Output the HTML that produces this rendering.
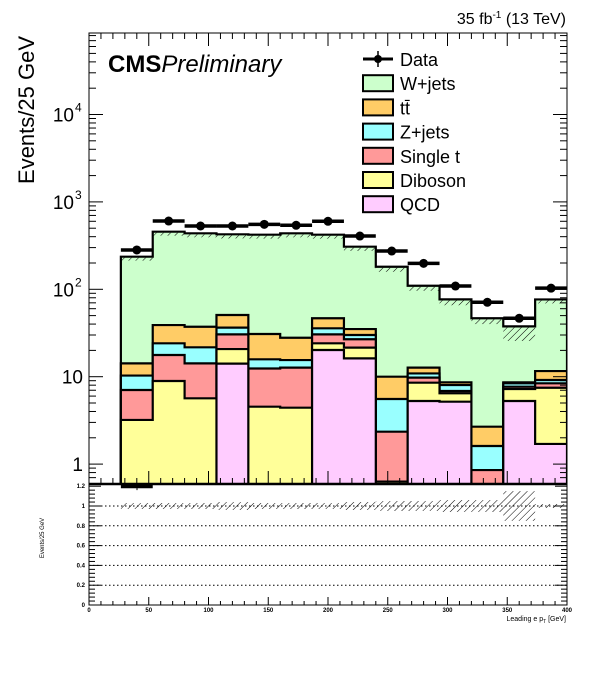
<!DOCTYPE html>
<html><head><meta charset="utf-8"><style>
html,body{margin:0;padding:0;background:#fff;}
svg{display:block;font-family:"Liberation Sans",sans-serif;}
</style></head><body>
<svg id="chart" width="596" height="692" viewBox="0 0 596 692">
<defs>
<pattern id="hatch" width="5" height="5" patternUnits="userSpaceOnUse" patternTransform="rotate(45)">
<line x1="0" y1="0" x2="0" y2="5" stroke="#000" stroke-width="1"/>
</pattern>
</defs>
<g id="main"></g>
</svg>
<script>
const binLow = [26.67,53.33,80,106.67,133.33,160,186.67,213.33,240,266.67,293.33,320,346.67,373.33];
const binWidth = 26.67;
const dataVals = [282,604,530,530,554,540,600,407,274,198,109,71,46.6,103];
const qcd     = [0,0,0,14.1,0,0,20.2,16.2,0,5.27,5.18,0,5.27,1.7];
const diboson = [3.2,8.93,5.66,6.6,4.54,4.42,3.9,5.3,0.63,3.27,1.28,0,1.96,5.78];
const singleT = [3.85,8.77,8.54,9.8,7.86,8.28,6.4,5.3,1.72,1.21,0.4,0.855,0.46,0.92];
const zjets   = [3.25,6.4,7.5,5.9,3.4,2.8,5.3,3.2,3.21,1.15,1.18,0.755,0.71,0.77];
const ttbar   = [3.9,14.9,15.6,14.4,15.0,12.4,10.8,5.1,4.44,1.8,0.59,1.07,0.23,2.43];
const wjets   = [222,417,400,375,391,409,375,272,171,97,68,44,29,65];
const legendLabels = ["Data","W+jets","tt\u0304","Z+jets","Single t","Diboson","QCD"];
const xTicks = [0,50,100,150,200,250,300,350,400];
const ratioTicks = [0,0.2,0.4,0.6,0.8,1,1.2];
const bandErr = [0.03,0.03,0.03,0.04,0.03,0.03,0.03,0.04,0.05,0.05,0.06,0.06,0.15,0.02];

const NS="http://www.w3.org/2000/svg";
const g=document.getElementById('main');
const X0=89, X1=567, YT=33, YB=484, RB=605;
function xS(v){return X0+(X1-X0)*v/400;}
function yS(v){return 464.1-87.4*Math.log10(Math.max(v,1e-3));}
function rS(v){return RB-(RB-486.2)*v/1.2;}
function mk(tag,attrs,parent){const e=document.createElementNS(NS,tag);for(const k in attrs)e.setAttribute(k,attrs[k]);(parent||g).appendChild(e);return e;}

const defs=document.querySelector('defs');
const cp=mk('clipPath',{id:'mainclip'},defs);
mk('rect',{x:X0,y:YT,width:X1-X0,height:YB-YT},cp);
const cp2=mk('clipPath',{id:'ratioclip'},defs);
mk('rect',{x:X0,y:YB,width:X1-X0,height:RB-YB},cp2);

const stackG=mk('g',{'clip-path':'url(#mainclip)'});


const comps=[[qcd,'#ffccff','qcd'],[diboson,'#ffff99','diboson'],[singleT,'#ff9999','single-t'],[zjets,'#99ffff','z-jets'],[ttbar,'#ffcc66','ttbar'],[wjets,'#ccffcc','w-jets']];
const cum=binLow.map(()=>[]);
binLow.forEach((b,i)=>{let s=0;comps.forEach((c,k)=>{s+=c[0][i];cum[i][k]=s;});});
const base=YB+10;
for(let k=comps.length-1;k>=0;k--){
  let d='M'+xS(binLow[0])+','+base;
  binLow.forEach((b,i)=>{
    const v=cum[i][k];const y=v>0?yS(v):base;
    d+=' L'+xS(b)+','+y+' L'+xS(b+binWidth)+','+y;
  });
  d+=' L'+xS(binLow[binLow.length-1]+binWidth)+','+base+' Z';
  const p=mk('path',{d:d,fill:comps[k][1],stroke:'#000','stroke-width':2.2,'stroke-linejoin':'miter'},stackG);
  
  
}
binLow.forEach((b,i)=>{
  const tot=cum[i][5];
  const y1=yS(tot), y2=yS(tot*(1-2*bandErr[i]));
  const h=mk('rect',{x:xS(b),y:y1+1,width:xS(b+binWidth)-xS(b),height:Math.max(3,y2-y1),fill:'url(#hatch)'},stackG);
  
  
});
binLow.forEach((b,i)=>{
  const y=yS(dataVals[i]);
  const l=mk('line',{x1:xS(b),x2:xS(b+binWidth),y1:y,y2:y,stroke:'#000','stroke-width':3.5},stackG);
  
  
  const c=mk('circle',{cx:xS(b+binWidth/2),cy:y,r:4.5,fill:'#000'},stackG);
  
  
});

const rg=mk('g',{'clip-path':'url(#ratioclip)'});


[0.2,0.4,0.6,0.8,1].forEach(v=>{
  const l=mk('line',{x1:X0,x2:X1,y1:rS(v),y2:rS(v),stroke:'#000','stroke-width':1,'stroke-dasharray':'1.5,2.5'},rg);
  
  
});
binLow.forEach((b,i)=>{
  const y1=rS(1+bandErr[i]),y2=rS(1-bandErr[i]);
  const h=mk('rect',{x:xS(b),y:y1,width:xS(b+binWidth)-xS(b),height:y2-y1,fill:'url(#hatch)'},rg);
  
  
});
const rp=mk('line',{x1:xS(binLow[0]),x2:xS(binLow[0]+binWidth),y1:rS(1.2),y2:rS(1.2),stroke:'#000','stroke-width':4},rg);


mk('line',{x1:137,x2:137,y1:rS(1.2),y2:rS(1.16),stroke:'#000','stroke-width':1},rg);

const f1=mk('rect',{x:X0,y:YT,width:X1-X0,height:YB-YT,fill:'none',stroke:'#000','stroke-width':1});

const f2=mk('rect',{x:X0,y:YB,width:X1-X0,height:RB-YB,fill:'none',stroke:'#000','stroke-width':1});

mk('line',{x1:X0,x2:X1,y1:YB,y2:YB,stroke:'#000','stroke-width':2.5});

for(let d=-1;d<=5;d++){for(let m=1;m<10;m++){
  const v=m*Math.pow(10,d);const y=yS(v);if(y<YT||y>YB)continue;
  const L=m===1?14:7;
  mk('line',{x1:X0,x2:X0+L,y1:y,y2:y,stroke:'#000','stroke-width':1});
  mk('line',{x1:X1,x2:X1-L,y1:y,y2:y,stroke:'#000','stroke-width':1});
}}
for(let v=0;v<=400;v+=10){
  const x=xS(v);const L=v%50===0?13:6;
  mk('line',{x1:x,x2:x,y1:YT,y2:YT+L,stroke:'#000','stroke-width':1});
  mk('line',{x1:x,x2:x,y1:YB,y2:YB-L,stroke:'#000','stroke-width':1});
  mk('line',{x1:x,x2:x,y1:RB,y2:RB-(v%50===0?8:4),stroke:'#000','stroke-width':1});
}
for(let v=0;v<=1.2001;v+=0.04){
  const y=rS(v);const L=Math.abs(v*5-Math.round(v*5))<1e-6?12:6;
  mk('line',{x1:X0,x2:X0+L,y1:y,y2:y,stroke:'#000','stroke-width':1});
  mk('line',{x1:X1,x2:X1-L,y1:y,y2:y,stroke:'#000','stroke-width':1});
}
function txt(s,attrs,name){const t=mk('text',attrs);t.textContent=s;return t;}
[[1,'1'],[10,'10']].forEach(([v,s])=>txt(s,{x:83,y:yS(v)+7,'font-size':19,'text-anchor':'end'},'y-tick-label'));
[[2,100],[3,1000],[4,10000]].forEach(([e,v])=>{
  txt('10',{x:74,y:yS(v)+7,'font-size':19,'text-anchor':'end'},'y-tick-label');
  txt(String(e),{x:75,y:yS(v)-3,'font-size':12},'y-tick-exponent');
});
ratioTicks.forEach(v=>txt(v===0||v===1?String(v):v.toFixed(1),{x:85,y:rS(v)+2,'font-size':6,'font-weight':'bold','text-anchor':'end'},'ratio-tick-label'));
xTicks.forEach(v=>txt(String(v),{x:xS(v),y:612,'font-size':6,'font-weight':'bold','text-anchor':'middle'},'x-tick-label'));
txt('Events/25 GeV',{x:0,y:0,'font-size':22,'text-anchor':'middle',transform:'translate(34,110) rotate(-90)'},'y-axis-title');
txt('Events/25 GeV',{x:0,y:0,'font-size':6,'text-anchor':'middle',transform:'translate(44,538) rotate(-90)'},'ratio-y-axis-title');
const xt=txt('',{x:566,y:621,'font-size':7,'text-anchor':'end'},'x-axis-title');
xt.innerHTML='Leading e p<tspan dy="2" font-size="5">T</tspan><tspan dy="-2"> [GeV]</tspan>';
const hd=txt('',{x:566,y:24,'font-size':16,'text-anchor':'end'},'lumi-label');
hd.innerHTML='35 fb<tspan dy="-6" font-size="10">-1</tspan><tspan dy="6"> (13 TeV)</tspan>';
const cms=txt('',{x:108,y:72,'font-size':24},'cms-label');
cms.innerHTML='<tspan font-weight="bold">CMS</tspan><tspan font-style="italic">Preliminary</tspan>';

const lg=mk('g',{});

const legCols=[null,'#ccffcc','#ffcc66','#99ffff','#ff9999','#ffff99','#ffccff'];
legendLabels.forEach((s,i)=>{
  const y=59+i*24.2;
  if(i===0){
    mk('line',{x1:363,x2:393,y1:y,y2:y,stroke:'#000','stroke-width':3},lg);
    mk('line',{x1:378,x2:378,y1:y-8,y2:y+8,stroke:'#000','stroke-width':1.5},lg);
    mk('circle',{cx:378,cy:y,r:4},lg);
  } else {
    const r=mk('rect',{x:363,y:y-8,width:30,height:16,fill:legCols[i],stroke:'#000','stroke-width':2},lg);
    
  }
  const t=mk('text',{x:400,y:y+7,'font-size':18},lg);t.textContent=s;
  
});
</script>
</body></html>
